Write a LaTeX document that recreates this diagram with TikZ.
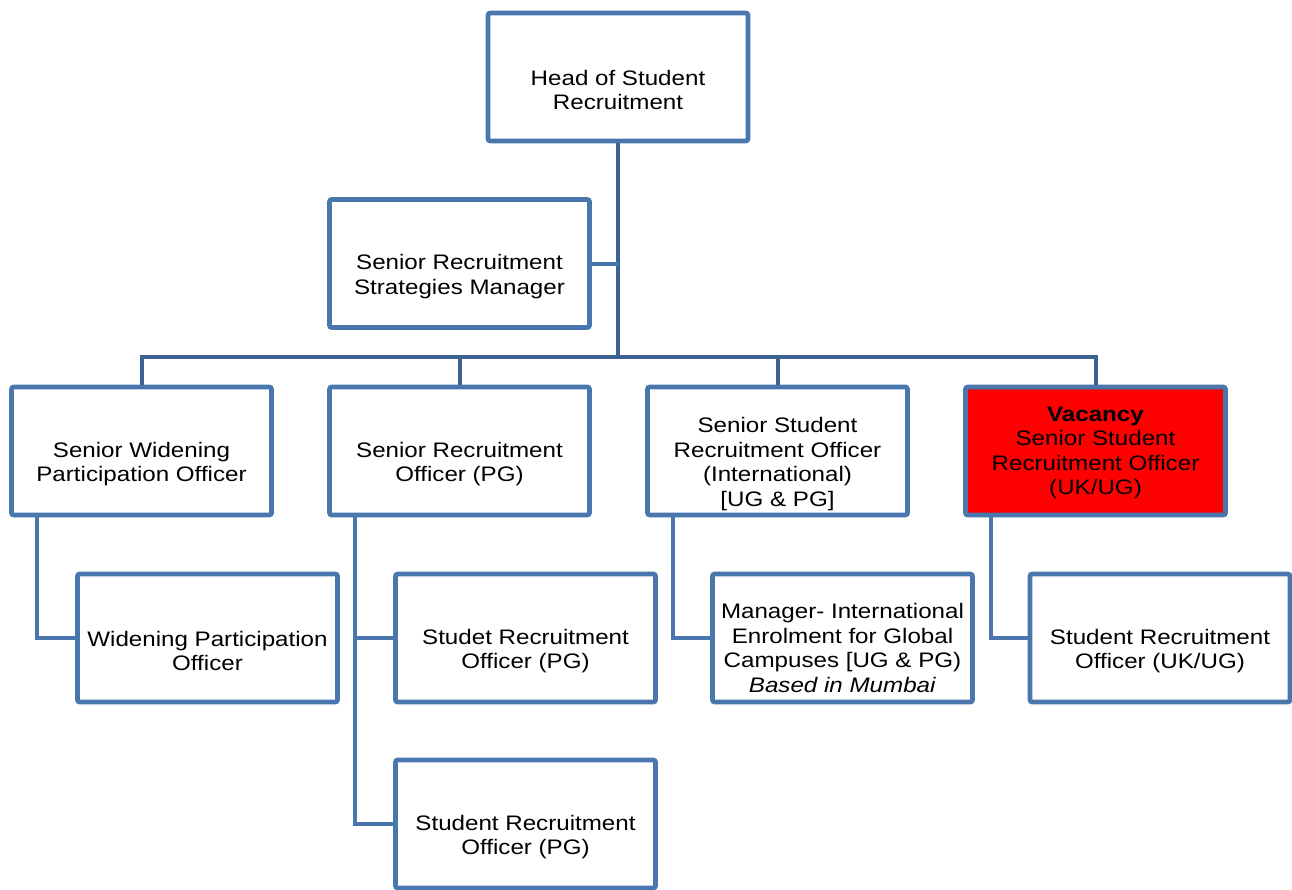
\documentclass[tikz,border=0pt]{standalone}
\usepackage{fontspec}
\setmainfont{Liberation Sans}[FakeStretch=1.15]
\usetikzlibrary{calc}
\definecolor{boxblue}{HTML}{4A76AE}
\definecolor{trunkblue}{HTML}{3C6292}
\definecolor{vacred}{HTML}{FF0000}
\begin{document}
\begin{tikzpicture}[x=0.75pt,y=-0.75pt,
  box/.style={draw=boxblue, fill=white, line width=3.4pt, rounded corners=1.5pt,
    minimum width=195pt, minimum height=96pt, inner sep=0pt},
  vacbox/.style={box, fill=vacred},
  txt/.style={font=\fontsize{15.75}{18.4}\selectfont, align=center, inner sep=0pt},
  conn/.style={draw=boxblue, line width=3pt},
  trunk/.style={draw=trunkblue, line width=3pt}]
\useasboundingbox (0,0) rectangle (1292,889);
% boxes
\node[box] (head) at (618,77) {};
\node[box] (srsm) at (459.5,263.5) {};
\node[box] (swpo) at (141.5,451) {};
\node[box] (srpg) at (459.5,451) {};
\node[box] (ssri) at (777.5,451) {};
\node[vacbox] (vac) at (1095.5,451) {};
\node[box] (wpo) at (207.5,638) {};
\node[box] (stpg) at (525.5,638) {};
\node[box] (mgr) at (842.5,638) {};
\node[box] (srouk) at (1160,638) {};
\node[box] (sro2) at (525.5,824) {};
% texts
\node[txt] (head-t) at ($(head.center)+(0,13)$) {Head of Student\\Recruitment};
\node[txt] (srsm-t) at ($(srsm.center)+(0,13)$) {Senior Recruitment\\Strategies Manager};
\node[txt] (swpo-t) at ($(swpo.center)+(0,13)$) {Senior Widening\\Participation Officer};
\node[txt] (srpg-t) at ($(srpg.center)+(0,13)$) {Senior Recruitment\\Officer (PG)};
\node[txt] (ssri-t) at ($(ssri.center)+(0,13)$) {Senior Student\\Recruitment Officer\\(International)\\{[UG \& PG]}};
\node[txt] (vac-t) at ($(vac.center)+(0,2)$) {\textbf{Vacancy}\\Senior Student\\Recruitment Officer\\(UK/UG)};
\node[txt] (wpo-t) at ($(wpo.center)+(0,13)$) {Widening Participation\\Officer};
\node[txt] (stpg-t) at ($(stpg.center)+(0,13)$) {Studet Recruitment\\Officer (PG)};
\node[txt] (mgr-t) at ($(mgr.center)+(0,10)$) {Manager- International\\Enrolment for Global\\Campuses {[UG \& PG)}\\\textit{Based in Mumbai}};
\node[txt] (srouk-t) at ($(srouk.center)+(0,13)$) {Student Recruitment\\Officer (UK/UG)};
\node[txt] (sro2-t) at ($(sro2.center)+(0,13)$) {Student Recruitment\\Officer (PG)};
% connectors
\coordinate (bus) at (618,357);
\draw[trunk] (head.south) -- (bus);
\draw[conn] (srsm.east) -- (srsm.east -| bus);
\draw[trunk] (swpo.north) -- (swpo.north |- bus) -- (vac.north |- bus) -- (vac.north);
\draw[trunk] (srpg.north |- bus) -- (srpg.north);
\draw[trunk] (ssri.north |- bus) -- (ssri.north);
\draw[conn] ($(swpo.south)+(-104.5,0)$) |- (wpo.west);
\draw[conn] ($(srpg.south)+(-104.5,0)$) |- (sro2.west);
\draw[conn] ($(srpg.south)+(-104.5,0)$) |- (stpg.west);
\draw[conn] ($(ssri.south)+(-104.5,0)$) |- (mgr.west);
\draw[conn] ($(vac.south)+(-104.5,0)$) |- (srouk.west);
\end{tikzpicture}
\end{document}
